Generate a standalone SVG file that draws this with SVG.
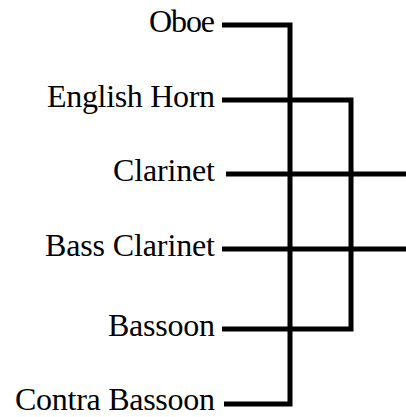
<svg xmlns="http://www.w3.org/2000/svg" width="406" height="417" viewBox="0 0 406 417">
  <style>
    .wire { stroke: #000; stroke-width: 5; fill: none; }
    .label { font-family: "Times New Roman", "Liberation Serif", Times, serif; font-size: 32px; fill: #000; text-anchor: end; }
  </style>
  <rect width="406" height="417" fill="#fff"/>
  <g id="connectors">
    <!-- Oboe to Contra Bassoon -->
    <polyline class="wire" points="222,25 290,25 290,404 224,404"/>
    <!-- English Horn to Bassoon -->
    <polyline class="wire" points="222,100 351,100 351,329 222,329"/>
    <!-- Clarinet and Bass Clarinet run off to the right -->
    <line class="wire" x1="226" y1="174" x2="406" y2="174"/>
    <line class="wire" x1="222" y1="249" x2="406" y2="249"/>
  </g>
  <g id="oboe"><text class="label" x="215" y="32" textLength="66">Oboe</text></g>
  <g id="english-horn"><text class="label" x="215" y="107" textLength="168">English Horn</text></g>
  <g id="clarinet"><text class="label" x="215" y="181" textLength="102">Clarinet</text></g>
  <g id="bass-clarinet"><text class="label" x="215" y="256" textLength="170">Bass Clarinet</text></g>
  <g id="bassoon"><text class="label" x="215" y="336" textLength="107">Bassoon</text></g>
  <g id="contra-bassoon"><text class="label" x="215" y="410" textLength="200">Contra Bassoon</text></g>
</svg>
